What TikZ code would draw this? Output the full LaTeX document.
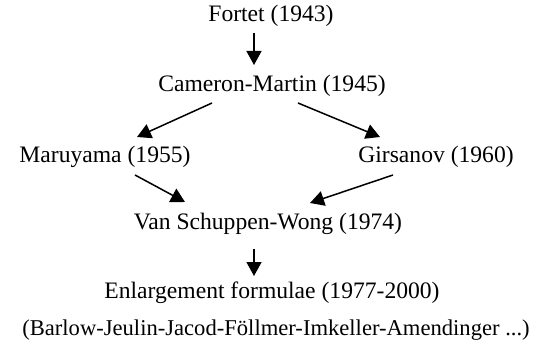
\documentclass[tikz,border=0pt]{standalone}
\usepackage{fontspec}
\setmainfont{Liberation Serif}
\usetikzlibrary{arrows.meta,calc}
\begin{document}
\begin{tikzpicture}[x=1pt,y=-1pt,
  lbl/.style={inner sep=0pt,font=\fontsize{23.6}{28}\selectfont},
  arr/.style={line width=1.5pt,-{Triangle[length=14pt,width=15pt]}}]
\useasboundingbox (0,0) rectangle (536,345);
\node[lbl] (fortet) at (271,16) {Fortet (1943)};
\node[lbl] (cameron) at (272,86) {Cameron-Martin (1945)};
\node[lbl] (maruyama) at (105,157) {Maruyama (1955)};
\node[lbl] (girsanov) at (436,157) {Girsanov (1960)};
\node[lbl] (vsw) at (268,224) {Van Schuppen-Wong (1974)};
\node[lbl] (enl) at (272,293) {Enlargement formulae (1977-2000)};
\node[lbl,font=\fontsize{22.6}{28}\selectfont] (names) at (276,330) {(Barlow-Jeulin-Jacod-Föllmer-Imkeller-Amendinger ...)};
\draw[arr] ($(fortet.center)+(-17,17)$) -- ($(cameron.center)+(-18,-21)$);
\draw[arr] ($(cameron.center)+(-60,17)$) -- ($(maruyama.center)+(32,-20)$);
\draw[arr] ($(cameron.center)+(26,17)$) -- ($(girsanov.center)+(-56,-20)$);
\draw[arr] ($(maruyama.center)+(30,18)$) -- ($(vsw.center)+(-83,-22)$);
\draw[arr] ($(girsanov.center)+(-43,18)$) -- ($(vsw.center)+(42,-21)$);
\draw[arr] ($(vsw.center)+(-14,25)$) -- ($(enl.center)+(-18,-17)$);
\end{tikzpicture}
\end{document}
